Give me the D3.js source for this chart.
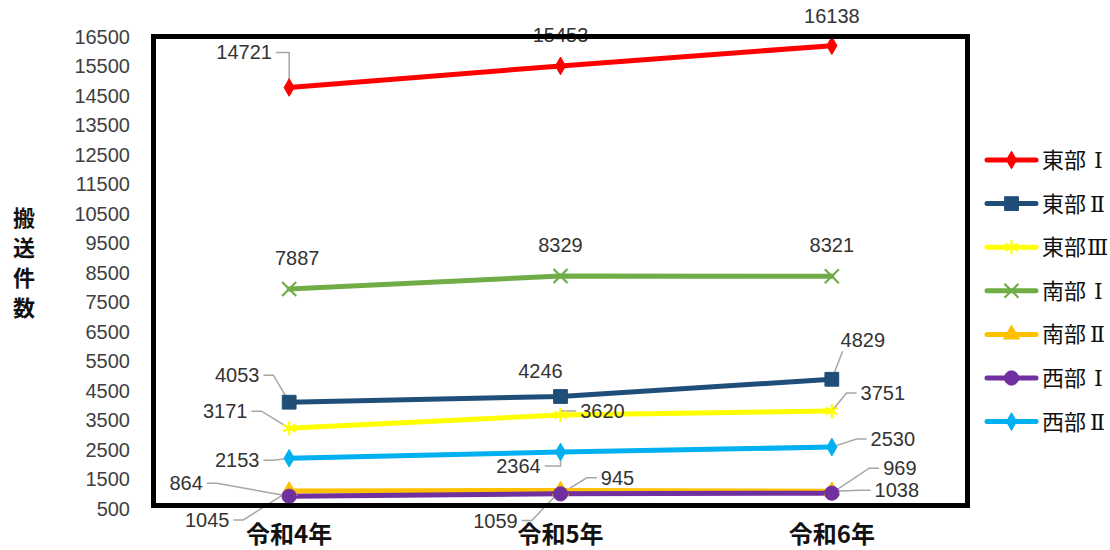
<!DOCTYPE html>
<html><head><meta charset="utf-8">
<script src="https://cdn.jsdelivr.net/npm/d3@7/dist/d3.min.js"></script>
<style>
html,body{margin:0;padding:0;background:#fff;}
svg{display:block;}
</style></head>
<body>
<svg id="chart" width="1110" height="550"></svg>
<script>
// ---- data ----
const categories = ["令和4年", "令和5年", "令和6年"];
const seriesNames = ["東部Ⅰ", "東部Ⅱ", "東部Ⅲ", "南部Ⅰ", "南部Ⅱ", "西部Ⅰ", "西部Ⅱ"];
const east1 = [14721, 15453, 16138];
const east2 = [4053, 4246, 4829];
const east3 = [3171, 3620, 3751];
const south1 = [7887, 8329, 8321];
const south2 = [1045, 1059, 1038];
const west1 = [864, 945, 969];
const west2 = [2153, 2364, 2530];
const yTicks = [500,1500,2500,3500,4500,5500,6500,7500,8500,9500,10500,11500,12500,13500,14500,15500,16500];
const yTitle = "搬送件数";

// ---- styles / layout ----
const seriesValues = [east1, east2, east3, south1, south2, west1, west2];
const colors = ["#ff0000", "#1f4e79", "#ffff00", "#70ad47", "#ffc000", "#7030a0", "#00b0f0"];
const markers = [
  {type: d3.symbolDiamond, size: 90, fill: true},
  {type: d3.symbolSquare, size: 190, fill: true},
  {type: d3.symbolAsterisk, size: 140, fill: false},
  {type: d3.symbolTimes, size: 130, fill: false},
  {type: d3.symbolTriangle, size: 110, fill: true},
  {type: d3.symbolCircle, size: 160, fill: true},
  {type: d3.symbolDiamond, size: 90, fill: true}
];
// label offsets [dx, dy, leaderType] (0 none, 1 elbow, 2 straight from corner)
const labelPos = [
  [[-45,-35,1],[0,-31,0],[0,-30,0]],
  [[-52,-27,1],[-20,-25,0],[31,-39,2]],
  [[-64,-17,1],[42,-4,1],[51,-18,1]],
  [[8,-31,0],[0,-31,0],[0,-31,0]],
  [[-82,29,1],[-65,30,1],[65,-1,1]],
  [[-103,-13,1],[57,-16,1],[68,-25,1]],
  [[-52,2,1],[-42,14,1],[61,-8,1]]
];

const svg = d3.select("#chart");
const frame = {x0: 153.5, x1: 967.5, y0: 36.5, y1: 505.5};

const x = d3.scaleBand().domain(categories).range([frame.x0, frame.x1]);
const y = d3.scaleLinear().domain([500, 16500]).range([507, 35]);
const cx = c => x(c) + x.bandwidth() / 2;

const numFont = "'Liberation Sans', Arial, sans-serif";
const cjkFont = "'Noto Sans CJK JP', 'Noto Sans', sans-serif";
const legFont = "'DejaVu Serif', 'Noto Sans CJK JP', serif";

// y axis
const yAxis = d3.axisLeft(y).tickValues(yTicks).tickSize(0).tickPadding(6).tickFormat(d => d);
const ga = svg.append("g").attr("transform", "translate(136,2)").call(yAxis);
ga.select(".domain").remove();
ga.selectAll("text").attr("font-family", numFont).attr("font-size", 20).attr("fill", "#404040");

// y title (vertical stacked)
const tchars = Array.from(yTitle);
svg.append("g").selectAll("text").data(tchars).join("text")
  .attr("x", 24).attr("y", (d, i) => 218 + i * 30).attr("dy", "0.35em")
  .attr("text-anchor", "middle").attr("font-family", cjkFont)
  .attr("font-weight", "bold").attr("font-size", 22).attr("fill", "#111")
  .text(d => d);

// x labels
svg.append("g").selectAll("text").data(categories).join("text")
  .attr("x", d => cx(d)).attr("y", 535).attr("dy", "0.35em")
  .attr("text-anchor", "middle").attr("font-family", cjkFont)
  .attr("font-weight", "bold").attr("font-size", 24).attr("fill", "#111")
  .text(d => d);

const gLead = svg.append("g");
const gLines = svg.append("g");
const gMarks = svg.append("g");
const gLabels = svg.append("g");

function drawMarker(g, m, color, px, py) {
  const p = g.append("path").attr("d", d3.symbol(m.type, m.size)()).attr("transform", `translate(${px},${py})`);
  if (m.fill) p.attr("fill", color).attr("stroke", color).attr("stroke-width", 1);
  else p.attr("fill", "none").attr("stroke", color).attr("stroke-width", 2.2);
}

const line = d3.line().x((d, i) => cx(categories[i])).y(d => y(d));

seriesValues.forEach((vals, s) => {
  gLines.append("path").datum(vals).attr("d", line)
    .attr("fill", "none").attr("stroke", colors[s]).attr("stroke-width", 5)
    .attr("stroke-linejoin", "round").attr("stroke-linecap", "round");
  vals.forEach((v, i) => {
    const px = cx(categories[i]), py = y(v);
    drawMarker(gMarks, markers[s], colors[s], px, py);
    const [dx, dy, lead] = labelPos[s][i];
    const lx = px + dx, ly = py + dy;
    const t = gLabels.append("text").attr("x", lx).attr("y", ly).attr("dy", "0.35em")
      .attr("text-anchor", "middle").attr("font-family", numFont).attr("font-size", 20)
      .attr("fill", "#333").text(v);
    if (lead) {
      const w = t.node().getComputedTextLength();
      const left = lx < px;
      let pts;
      if (lead === 1) {
        const sx = left ? lx + w / 2 + 4 : lx - w / 2 - 4;
        let ex = left ? sx + 10 : sx - 10;
        if (Math.abs(px - sx) < 20) ex = px;
        pts = [[sx, ly], [ex, ly], [px, py]];
      } else {
        const sx = left ? lx + w / 2 : lx - w / 2 + 2;
        pts = [[sx, ly + 11], [px, py]];
      }
      gLead.append("path").attr("d", d3.line()(pts)).attr("fill", "none")
        .attr("stroke", "#a6a6a6").attr("stroke-width", 1.5);
    }
  });
});

// frame
svg.append("rect").attr("x", frame.x0).attr("y", frame.y0)
  .attr("width", frame.x1 - frame.x0).attr("height", frame.y1 - frame.y0)
  .attr("fill", "none").attr("stroke", "#000").attr("stroke-width", 5);

// legend
const lg = svg.append("g");
seriesNames.forEach((n, s) => {
  const ly = 160 + s * 43.6;
  lg.append("line").attr("x1", 987).attr("x2", 1036).attr("y1", ly).attr("y2", ly)
    .attr("stroke", colors[s]).attr("stroke-width", 5).attr("stroke-linecap", "round");
  drawMarker(lg, markers[s], colors[s], 1011.5, ly);
  const chars = Array.from(n);
  const t = lg.append("text").attr("x", 1042).attr("y", ly).attr("dy", "0.36em")
    .attr("font-family", legFont).attr("font-size", 22).attr("fill", "#111");
  t.append("tspan").text(chars.slice(0, 2).join(""));
  const num = chars.slice(2).join("");
  t.append("tspan").attr("dx", num === "Ⅲ" ? 1 : (num === "Ⅱ" ? 4 : 8)).text(num);
});
</script>
</body></html>
